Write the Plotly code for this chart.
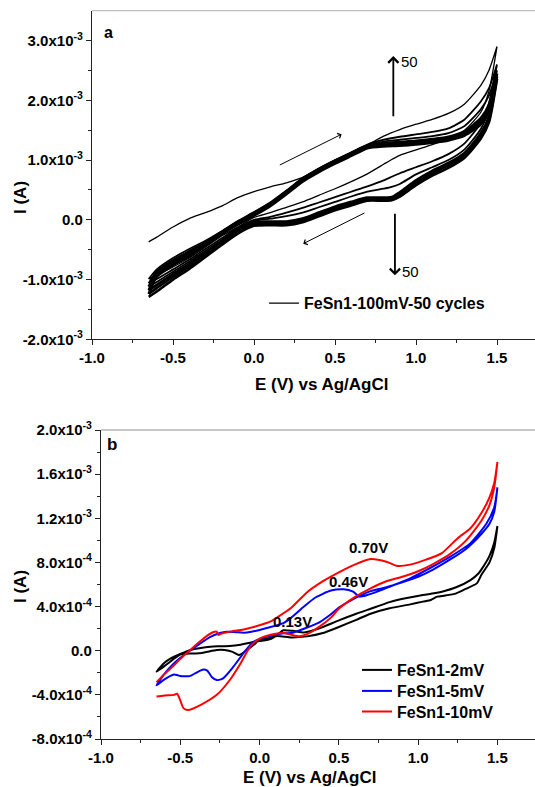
import plotly.graph_objects as go

# ---------------- Panel a : FeSn1, 100 mV, 50 cycles (current in mA) ----------------
E_fwd = [-0.65, -0.6, -0.5, -0.4, -0.3, -0.2, -0.1, 0.0, 0.1, 0.2, 0.3, 0.4, 0.5, 0.6,
         0.7, 0.8, 0.9, 1.0, 1.1, 1.2, 1.3, 1.4, 1.45, 1.5]
E_rev = [1.5, 1.45, 1.4, 1.3, 1.2, 1.1, 1.0, 0.9, 0.85, 0.8, 0.7, 0.6, 0.5, 0.4, 0.3,
         0.2, 0.1, 0.0, -0.1, -0.2, -0.3, -0.4, -0.5, -0.6, -0.65]

cyc1_fwd = [-0.37, -0.29, -0.12, 0.02, 0.12, 0.23, 0.37, 0.47, 0.55, 0.62, 0.71, 0.86,
            1.00, 1.12, 1.25, 1.40, 1.51, 1.60, 1.68, 1.78, 1.94, 2.25, 2.50, 2.90]
cyc1_rev = [2.90, 2.15, 1.80, 1.50, 1.36, 1.26, 1.17, 1.08, 1.01, 0.93, 0.77, 0.64, 0.52,
            0.41, 0.30, 0.21, 0.12, 0.04, -0.12, -0.27, -0.46, -0.64, -0.79, -0.93, -0.99]
cyc2_fwd = [-0.99, -0.83, -0.64, -0.49, -0.35, -0.19, -0.02, 0.13, 0.29, 0.49, 0.70, 0.86,
            1.00, 1.13, 1.26, 1.34, 1.39, 1.43, 1.47, 1.53, 1.68, 1.98, 2.20, 2.60]
cyc2_rev = [2.60, 1.95, 1.62, 1.28, 1.10, 0.98, 0.88, 0.78, 0.72, 0.66, 0.56, 0.47, 0.38,
            0.29, 0.20, 0.12, 0.05, 0.00, -0.13, -0.31, -0.49, -0.67, -0.83, -0.99, -1.06]
cyc3_fwd = [-1.06, -0.86, -0.67, -0.52, -0.37, -0.20, -0.03, 0.12, 0.28, 0.48, 0.69, 0.85,
            0.99, 1.12, 1.25, 1.31, 1.34, 1.37, 1.40, 1.45, 1.57, 1.85, 2.08, 2.50]
cyc3_rev = [2.50, 1.85, 1.52, 1.18, 1.00, 0.88, 0.76, 0.60, 0.55, 0.52, 0.47, 0.39, 0.30,
            0.21, 0.12, 0.06, 0.02, -0.02, -0.15, -0.34, -0.52, -0.70, -0.87, -1.04, -1.12]
cyc10_fwd = [-1.12, -0.89, -0.70, -0.55, -0.39, -0.21, -0.04, 0.11, 0.27, 0.47, 0.68, 0.84,
             0.98, 1.11, 1.24, 1.28, 1.30, 1.32, 1.35, 1.39, 1.48, 1.70, 1.92, 2.45]
cyc10_rev = [2.45, 1.72, 1.45, 1.12, 0.95, 0.82, 0.66, 0.46, 0.38, 0.37, 0.37, 0.30, 0.22,
             0.12, 0.02, -0.03, -0.03, -0.04, -0.17, -0.37, -0.55, -0.74, -0.91, -1.09, -1.18]
cyc25_fwd = [-1.18, -0.92, -0.73, -0.58, -0.41, -0.22, -0.06, 0.09, 0.25, 0.45, 0.66, 0.82,
             0.96, 1.09, 1.22, 1.26, 1.27, 1.29, 1.32, 1.36, 1.44, 1.65, 1.86, 2.40]
cyc25_rev = [2.40, 1.67, 1.40, 1.08, 0.91, 0.78, 0.62, 0.42, 0.35, 0.34, 0.34, 0.27, 0.19,
             0.09, -0.01, -0.06, -0.06, -0.07, -0.20, -0.40, -0.59, -0.78, -0.95, -1.14, -1.24]
cyc50_fwd = [-1.24, -0.95, -0.76, -0.61, -0.43, -0.24, -0.08, 0.07, 0.23, 0.43, 0.64, 0.80,
             0.94, 1.07, 1.20, 1.23, 1.24, 1.26, 1.29, 1.33, 1.41, 1.60, 1.80, 2.36]
cyc50_rev = [2.36, 1.63, 1.36, 1.04, 0.87, 0.74, 0.58, 0.39, 0.33, 0.32, 0.32, 0.24, 0.16,
             0.06, -0.04, -0.09, -0.09, -0.10, -0.23, -0.42, -0.62, -0.82, -1.00, -1.20, -1.29]

# ---------------- Panel b : scan rates (current in 1e-4 A) ----------------
black2_E_f = [-0.65, -0.6, -0.56, -0.5, -0.44, -0.38, -0.31, -0.25, -0.19, -0.12, -0.06, 0.0,
              0.07, 0.12, 0.15, 0.21, 0.28, 0.35, 0.4, 0.5, 0.61, 0.7, 0.82, 0.92, 1.03, 1.1,
              1.15, 1.24, 1.33, 1.38, 1.41, 1.45, 1.48, 1.5]
black2_I_f = [-1.9, -1.1, -0.7, -0.3, 0.05, 0.22, 0.36, 0.4, 0.43, 0.55, 0.73, 0.87, 1.05,
              1.55, 1.85, 1.8, 1.65, 1.9, 2.15, 2.75, 3.35, 3.8, 4.4, 4.75, 5.05, 5.2, 5.35,
              5.75, 6.4, 7.0, 7.6, 8.6, 9.8, 11.3]
black2_E_r = [1.5, 1.48, 1.45, 1.4, 1.37, 1.3, 1.24, 1.17, 1.12, 1.08, 1.03, 0.95, 0.82, 0.7,
              0.61, 0.5, 0.4, 0.3, 0.2, 0.11, 0.05, 0.0, -0.04, -0.08, -0.13, -0.17, -0.22,
              -0.27, -0.33, -0.38, -0.44, -0.5, -0.56, -0.6, -0.65]
black2_I_r = [11.3, 9.3, 8.0, 6.9, 6.1, 5.6, 5.2, 5.0, 4.9, 4.6, 4.45, 4.2, 3.84, 3.35, 2.8,
              2.15, 1.6, 1.3, 1.2, 1.33, 1.1, 0.97, 0.5, 0.06, -0.39, -0.1, 0.06, 0.06, -0.1,
              -0.24, -0.25, -0.35, -0.95, -1.4, -1.9]

blue5_E_f = [-0.65, -0.6, -0.55, -0.5, -0.44, -0.38, -0.31, -0.25, -0.21, -0.15, -0.1, -0.05,
             0.0, 0.07, 0.15, 0.2, 0.28, 0.35, 0.45, 0.53, 0.59, 0.63, 0.68, 0.75, 0.82, 0.95,
             1.07, 1.2, 1.33, 1.43, 1.48, 1.5]
blue5_I_f = [-3.15, -2.1, -1.3, -0.65, 0.0, 0.6, 1.25, 1.6, 1.72, 1.68, 1.63, 1.72, 1.88,
             2.15, 2.5, 3.0, 4.0, 4.8, 5.45, 5.57, 5.35, 4.9, 5.05, 5.4, 5.8, 6.56, 7.45, 8.5,
             9.75, 11.5, 13.0, 14.8]
blue5_E_r = [1.5, 1.48, 1.45, 1.4, 1.3, 1.2, 1.1, 1.0, 0.9, 0.8, 0.7, 0.6, 0.5, 0.45, 0.38,
             0.3, 0.2, 0.15, 0.1, 0.045, 0.0, -0.04, -0.1, -0.165, -0.23, -0.27, -0.3, -0.33,
             -0.36, -0.4, -0.44, -0.5, -0.52, -0.54, -0.6, -0.65]
blue5_I_r = [14.8, 12.6, 11.5, 10.6, 9.2, 8.25, 7.4, 6.7, 6.2, 5.75, 5.4, 4.75, 3.9, 3.3,
             2.6, 2.1, 1.6, 1.58, 1.45, 1.27, 1.05, 0.8, -0.2, -1.45, -2.5, -2.66, -2.4, -1.8,
             -1.72, -2.0, -2.3, -2.3, -2.2, -2.15, -2.6, -3.15]

red10_E_f = [-0.65, -0.6, -0.55, -0.5, -0.44, -0.38, -0.33, -0.29, -0.27, -0.26, -0.24,
             -0.19, -0.1, 0.0, 0.07, 0.13, 0.2, 0.3, 0.4, 0.5, 0.6, 0.7, 0.8, 0.87, 0.95,
             1.05, 1.15, 1.25, 1.33, 1.4, 1.45, 1.48, 1.5]
red10_I_f = [-2.85, -2.12, -1.45, -0.76, 0.03, 0.79, 1.37, 1.7, 1.72, 1.42, 1.55, 1.72,
             1.93, 2.3, 2.65, 3.2, 3.9, 5.3, 6.3, 7.1, 7.8, 8.3, 8.07, 7.68, 7.8, 8.25, 8.85,
             10.2, 11.1, 12.5, 13.9, 15.2, 17.1]
red10_E_r = [1.5, 1.48, 1.45, 1.4, 1.3, 1.2, 1.1, 1.0, 0.9, 0.8, 0.7, 0.6, 0.5, 0.45, 0.38,
             0.3, 0.25, 0.2, 0.15, 0.07, 0.0, -0.06, -0.12, -0.19, -0.27, -0.37, -0.45, -0.48,
             -0.5, -0.52, -0.54, -0.6, -0.65]
red10_I_r = [17.1, 14.8, 13.2, 11.8, 9.95, 8.75, 7.9, 7.2, 6.7, 6.3, 5.65, 4.85, 3.8, 3.0,
             2.2, 1.5, 1.3, 1.45, 1.6, 1.45, 1.1, 0.35, -1.15, -2.7, -4.0, -4.9, -5.37, -5.2,
             -4.5, -3.9, -4.0, -4.05, -4.15]

x_ticks = [-1.0, -0.5, 0.0, 0.5, 1.0, 1.5]
x_ticktext = ["-1.0", "-0.5", "0.0", "0.5", "1.0", "1.5"]
ya_ticks = [-2e-3, -1e-3, 0.0, 1e-3, 2e-3, 3e-3]
ya_ticktext = ["-2.0x10<sup>-3</sup>", "-1.0x10<sup>-3</sup>", "0.0",
               "1.0x10<sup>-3</sup>", "2.0x10<sup>-3</sup>", "3.0x10<sup>-3</sup>"]
yb_ticks = [-8e-4, -4e-4, 0.0, 4e-4, 8e-4, 1.2e-3, 1.6e-3, 2.0e-3]
yb_ticktext = ["-8.0x10<sup>-4</sup>", "-4.0x10<sup>-4</sup>", "0.0", "4.0x10<sup>-4</sup>",
               "8.0x10<sup>-4</sup>", "1.2x10<sup>-3</sup>", "1.6x10<sup>-3</sup>",
               "2.0x10<sup>-3</sup>"]

FONT = "Arial, Liberation Sans, sans-serif"
W, H = 535, 787


def px_x(p):
    return p / W


def px_y(p):
    return 1 - p / H


fig = go.Figure()

# panel a traces
top_cycles = [
    ("cycle 1", cyc1_fwd, cyc1_rev, 1.3),
    ("cycle 2", cyc2_fwd, cyc2_rev, 1.8),
    ("cycle 3", cyc3_fwd, cyc3_rev, 1.8),
    ("cycle 10", cyc10_fwd, cyc10_rev, 2.7),
    ("cycle 25", cyc25_fwd, cyc25_rev, 2.7),
    ("cycle 50", cyc50_fwd, cyc50_rev, 2.7),
]
for i, (nm, f, r, w) in enumerate(top_cycles):
    fig.add_trace(go.Scatter(
        x=E_fwd + E_rev, y=[v * 1e-3 for v in f + r],
        mode="lines", line=dict(color="black", width=w, shape="spline", smoothing=0.6),
        name="FeSn1-100mV-50 cycles" if i == 0 else nm,
        showlegend=(i == 0), legend="legend", xaxis="x", yaxis="y", hoverinfo="skip"))

# panel b traces (one legend box per row so rows sit at the reference spacing)
for nm, col, Ef, If, Er, Ir, lg in [
    ("FeSn1-2mV", "#000000", black2_E_f, black2_I_f, black2_E_r, black2_I_r, "legend2"),
    ("FeSn1-5mV", "#0000ff", blue5_E_f, blue5_I_f, blue5_E_r, blue5_I_r, "legend3"),
    ("FeSn1-10mV", "#ff0000", red10_E_f, red10_I_f, red10_E_r, red10_I_r, "legend4"),
]:
    fig.add_trace(go.Scatter(
        x=Ef + Er, y=[v * 1e-4 for v in If + Ir], mode="lines",
        line=dict(color=col, width=2, shape="spline", smoothing=0.6),
        name=nm, legend=lg, xaxis="x2", yaxis="y2", hoverinfo="skip"))

axis_common = dict(showline=True, linecolor="#222", linewidth=1.3, ticks="outside",
                   ticklen=5, tickwidth=1.3, tickcolor="#222", showgrid=False,
                   zeroline=False, tickmode="array", automargin=False,
                   tickfont=dict(family=FONT, size=15, color="black", weight="bold"))
minor_common = dict(ticks="outside", ticklen=3, tickwidth=1.3, tickcolor="#222")
legend_font = dict(family=FONT, size=16, color="black", weight="bold")


def legend_box(x0, y0):
    return dict(x=px_x(x0), y=px_y(y0), xanchor="left", yanchor="top",
                bgcolor="rgba(0,0,0,0)", font=legend_font)


fig.update_layout(
    width=W, height=H, margin=dict(l=0, r=0, t=0, b=0, autoexpand=False),
    plot_bgcolor="white", paper_bgcolor="white",
    xaxis=dict(domain=[px_x(92), 1], anchor="y", range=[-1.0, 1.7346],
               tickvals=x_ticks, ticktext=x_ticktext,
               minor=dict(tickvals=[-0.75, -0.25, 0.25, 0.75, 1.25], **minor_common),
               **axis_common),
    yaxis=dict(domain=[px_y(339.3), px_y(10.7)], anchor="x", range=[-2e-3, 3.5e-3],
               tickvals=ya_ticks, ticktext=ya_ticktext,
               minor=dict(tickvals=[-1.5e-3, -0.5e-3, 0.5e-3, 1.5e-3, 2.5e-3], **minor_common),
               **axis_common),
    xaxis2=dict(domain=[px_x(101), 1], anchor="y2", range=[-1.0, 1.737],
                tickvals=x_ticks, ticktext=x_ticktext,
                minor=dict(tickvals=[-0.75, -0.25, 0.25, 0.75, 1.25], **minor_common),
                **axis_common),
    yaxis2=dict(domain=[px_y(739), px_y(430)], anchor="x2", range=[-8e-4, 2e-3],
                tickvals=yb_ticks, ticktext=yb_ticktext,
                minor=dict(tickvals=[-6e-4, -2e-4, 2e-4, 6e-4, 1e-3, 1.4e-3, 1.8e-3],
                           **minor_common),
                **axis_common),
    legend=legend_box(264, 286.3),
    legend2=legend_box(357, 653),
    legend3=legend_box(357, 674),
    legend4=legend_box(357, 694.7),
    shapes=[
        dict(type="line", xref="paper", yref="paper", x0=px_x(92), x1=1,
             y0=px_y(10.7), y1=px_y(10.7), line=dict(color="#b0b0b0", width=1)),
        dict(type="line", xref="paper", yref="paper", x0=px_x(101), x1=1,
             y0=px_y(430), y1=px_y(430), line=dict(color="#909090", width=1)),
    ],
)

bold = dict(family=FONT, color="black", weight="bold")
C = dict(xanchor="center", yanchor="middle", showarrow=False)
ann = []
# panel labels
ann.append(dict(xref="paper", yref="paper", x=px_x(108), y=px_y(32), text="a",
                font=dict(size=16, **bold), **C))
ann.append(dict(xref="paper", yref="paper", x=px_x(111.5), y=px_y(444.5), text="b",
                font=dict(size=17, **bold), **C))
# axis titles
for yy in (198, 587):
    ann.append(dict(xref="paper", yref="paper", x=px_x(20), y=px_y(yy), text="I (A)",
                    textangle=-90, font=dict(size=17, **bold), **C))
ann.append(dict(xref="paper", yref="paper", x=px_x(322), y=px_y(384),
                text="E (V) vs Ag/AgCl", font=dict(size=17, **bold), **C))
ann.append(dict(xref="paper", yref="paper", x=px_x(310), y=px_y(777),
                text="E (V) vs Ag/AgCl", font=dict(size=17, **bold), **C))
# scan direction arrows (panel a)
for (x0, y0, x1, y1, w) in [(0.15, 0.905e-3, 0.541, 1.433e-3, 1.0),
                            (0.691, 0.127e-3, 0.304, -0.40e-3, 1.0),
                            (0.86, 1.71e-3, 0.86, 2.74e-3, 1.8),
                            (0.87, 0.127e-3, 0.87, -0.93e-3, 1.8)]:
    ann.append(dict(xref="x", yref="y", axref="x", ayref="y", x=x1, y=y1, ax=x0, ay=y0,
                    text="", showarrow=True, arrowhead=4, arrowsize=1.1, arrowwidth=w,
                    arrowcolor="black"))
ann.append(dict(xref="x", yref="y", x=0.895, y=2.655e-3, text="50", xanchor="left",
                yanchor="middle", showarrow=False,
                font=dict(family=FONT, size=15, color="black")))
ann.append(dict(xref="x", yref="y", x=0.90, y=-0.873e-3, text="50", xanchor="left",
                yanchor="middle", showarrow=False,
                font=dict(family=FONT, size=15, color="black")))
# peak labels (panel b)
for (xx, yy, t) in [(0.69, 9.31e-4, "0.70V"), (0.56, 6.26e-4, "0.46V"),
                    (0.208, 2.69e-4, "0.13V")]:
    ann.append(dict(xref="x2", yref="y2", x=xx, y=yy, text=t,
                    font=dict(size=15, **bold), **C))
fig.update_layout(annotations=ann)

fig.write_html("out.html")
